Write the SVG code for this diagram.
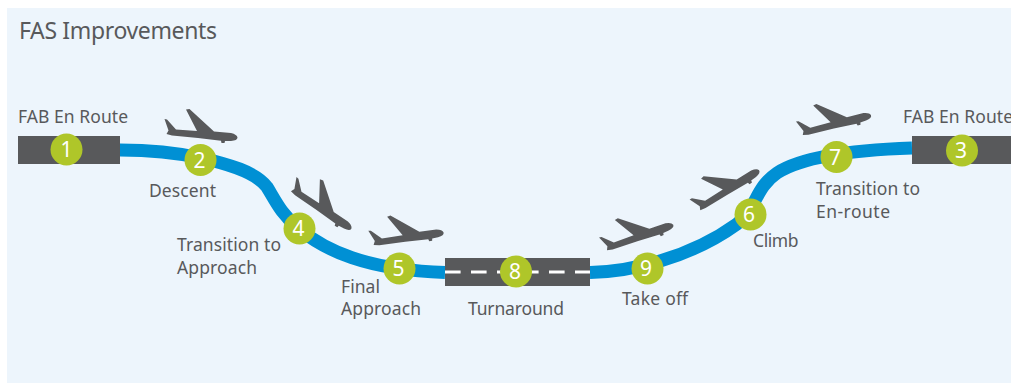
<svg xmlns="http://www.w3.org/2000/svg" width="1011" height="383" viewBox="0 0 1011 383">
<style>
.lbl{font-family:"Noto Sans","Lato",sans-serif;font-size:17.5px;fill:#58595b}
.ttl{font-family:"Noto Sans","Lato",sans-serif;font-size:23px;fill:#58595b}
.num{font-family:"Noto Sans","Lato",sans-serif;font-size:21px;fill:#fff;text-anchor:middle}
.badge{fill:#afc629}
.rw{fill:#58595b}
.plane{fill:#58595b}
</style>
<defs>
<path id="plane" d="M-37.5-14 L-35-13.5 L-26-3.500 L-5-2 L-16-23.5 L-12.5-24 L12-1.500 L29 0 Q35 1.5 35.500 4.5 Q35.500 7.500 29 8 L23 8 L22.5 10 L19.5 10 L19 7.8 L-4 5 L-30 2.500 L-35.5 1 L-33.5-2.5 Z"/>
</defs>
<rect x="7" y="8" width="1004" height="375" fill="#edf5fc"/>
<g id="connectors" fill="none" stroke="#0090d4" stroke-width="13">
<path id="route-descent" d="M120 150 C150 150 178 153 201 158 C228 164 256 172 267 187 C275 200 281 214 299 229 C325 250 365 270 445 272.5"/>
<path id="route-climb" d="M590 272.500 C630 272 690 258 737 224 C757 208 755 188 777 173 C800 158 850 150 912 148"/>
</g>
<text class="ttl" x="19" y="39" textLength="198">FAS Improvements</text>
<g id="plane-2"><use href="#plane" class="plane" transform="translate(202 133)"/></g>
<g id="plane-4"><use href="#plane" class="plane" transform="translate(322.500 207.500) rotate(29)"/></g>
<g id="plane-5"><use href="#plane" class="plane" transform="translate(408 236) rotate(-13)"/></g>
<g id="plane-9"><use href="#plane" class="plane" transform="translate(639 235) rotate(-24)"/></g>
<g id="plane-6"><use href="#plane" class="plane" transform="translate(728 188) rotate(-37)"/></g>
<g id="plane-7"><use href="#plane" class="plane" transform="translate(836 122.500) rotate(-19)"/></g>
<g id="node-1">
<rect class="rw" x="18" y="136" width="102" height="28"/>
<circle class="badge" cx="66.5" cy="149.5" r="16"/>
<text class="num" x="66.5" y="157">1</text>
<text class="lbl" x="18" y="123" textLength="110">FAB En Route</text>
</g>
<g id="node-2">
<circle class="badge" cx="200.5" cy="160" r="16"/>
<text class="num" x="199.5" y="167.500">2</text>
<text class="lbl" x="149" y="197" textLength="67">Descent</text>
</g>
<g id="node-3">
<rect class="rw" x="912" y="136" width="99" height="28"/>
<circle class="badge" cx="962" cy="150.500" r="16"/>
<text class="num" x="961" y="158">3</text>
<text class="lbl" x="903" y="123" textLength="110">FAB En Route</text>
</g>
<g id="node-4">
<circle class="badge" cx="299.500" cy="228.500" r="16"/>
<text class="num" x="298.500" y="236">4</text>
<text class="lbl" x="177" y="251" textLength="104">Transition to</text>
<text class="lbl" x="177" y="274" textLength="80">Approach</text>
</g>
<g id="node-5">
<circle class="badge" cx="399.500" cy="268.500" r="16"/>
<text class="num" x="398.500" y="276">5</text>
<text class="lbl" x="341" y="293" textLength="39">Final</text>
<text class="lbl" x="341" y="315" textLength="80">Approach</text>
</g>
<g id="node-6">
<circle class="badge" cx="750.500" cy="214.500" r="16"/>
<text class="num" x="749" y="222">6</text>
<text class="lbl" x="753" y="247" textLength="45.500">Climb</text>
</g>
<g id="node-7">
<circle class="badge" cx="836.500" cy="157" r="16"/>
<text class="num" x="835" y="165">7</text>
<text class="lbl" x="816" y="195" textLength="104">Transition to</text>
<text class="lbl" x="816" y="218" textLength="74">En-route</text>
</g>
<g id="node-8">
<rect class="rw" x="445" y="258" width="145" height="28"/>
<path d="M445 272H590" stroke="#fff" stroke-width="3" stroke-dasharray="15.600 10.400" fill="none"/>
<circle class="badge" cx="516" cy="271.500" r="16"/>
<text class="num" x="515" y="279">8</text>
<text class="lbl" x="468" y="315" textLength="96">Turnaround</text>
</g>
<g id="node-9">
<circle class="badge" cx="647.500" cy="268.500" r="16"/>
<text class="num" x="646" y="276">9</text>
<text class="lbl" x="622" y="305" textLength="66">Take off</text>
</g>
</svg>
